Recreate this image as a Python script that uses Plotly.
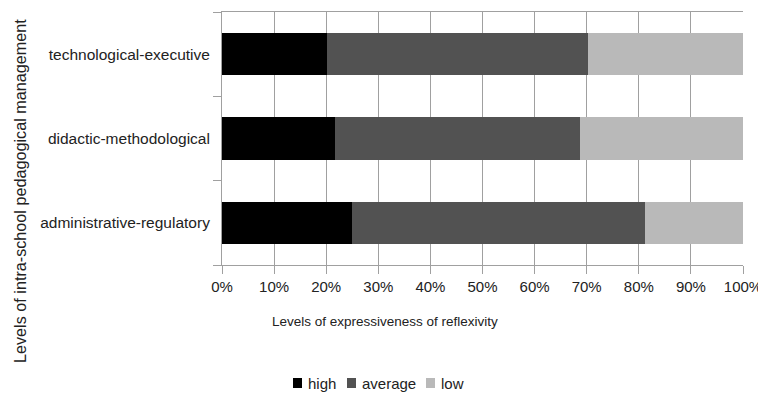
import plotly.graph_objects as go

categories = ["administrative-regulatory", "didactic-methodological", "technological-executive"]
series_names = ["high", "average", "low"]
high = [25.0, 21.6, 20.2]
average = [56.1, 47.1, 50.1]
low = [18.9, 31.3, 29.7]
x_ticks = [0, 10, 20, 30, 40, 50, 60, 70, 80, 90, 100]
x_tick_labels = [f"{v}%" for v in x_ticks]

FONT = "Liberation Sans, Arial, sans-serif"
TXT = "#222222"
COLORS = ["#000000", "#525252", "#b9b9b9"]

OFF = 8  # page body margin
W, H = 766 - OFF, 399 - OFF
# target plot area in window pixels: x 222..743, y 12..265
L, R, T, B = 222 - OFF, 766 - 743, 12 - OFF, 399 - 265
PW, PH = W - L - R, H - T - B

def px(x):
    return (x - OFF - L) / PW

def py(y):
    return (H - B - (y - OFF)) / PH

fig = go.Figure()
for name, vals, col in zip(series_names, [high, average, low], COLORS):
    fig.add_trace(go.Bar(y=categories, x=vals, name=name, orientation="h",
                         marker=dict(color=col, line=dict(width=0)), width=0.5,
                         showlegend=False))

fig.update_layout(
    barmode="stack",
    width=W, height=H,
    margin=dict(l=L, r=R, t=T, b=B, autoexpand=False),
    paper_bgcolor="white", plot_bgcolor="white",
    font=dict(family=FONT, size=15, color=TXT),
    showlegend=False,
    xaxis=dict(range=[0, 100], tickvals=x_ticks, ticktext=x_tick_labels,
               showgrid=True, gridcolor="#a0a0a0", gridwidth=1,
               showline=True, linecolor="#a0a0a0", linewidth=1, mirror=True,
               ticks="outside", ticklen=8, tickcolor="#a0a0a0",
               tickfont=dict(size=15, color=TXT), zeroline=False, fixedrange=True,
               automargin=False),
    yaxis=dict(showline=True, linecolor="#a0a0a0", linewidth=1,
               ticks="outside", ticklen=8, tickcolor="#a0a0a0", tickson="boundaries",
               tickfont=dict(size=15.5, color=TXT), showgrid=False, fixedrange=True,
               automargin=False, ticklabelstandoff=8),
)

fig.add_annotation(text="Levels of expressiveness of reflexivity", xref="paper", yref="paper",
                   x=px(385), y=py(321), xanchor="center", yanchor="middle",
                   showarrow=False, font=dict(size=13.5, color=TXT))
fig.add_annotation(text="Levels of intra-school pedagogical management", xref="paper", yref="paper",
                   x=px(9), y=py(191), xanchor="left", yanchor="middle",
                   textangle=-90, showarrow=False, font=dict(size=16.2, color=TXT))

# legend drawn from series names / colours
sq_left = [293, 347, 426]
txt_left = [306, 360, 439]
ly = 383
for name, col, sx, tx in zip(series_names, COLORS, sq_left, txt_left):
    fig.add_shape(type="rect", xref="paper", yref="paper",
                  x0=px(sx), x1=px(sx + 9), y0=py(ly + 5), y1=py(ly - 5),
                  fillcolor=col, line=dict(width=0))
    fig.add_annotation(text=name, xref="paper", yref="paper", x=px(tx), y=py(ly),
                       xanchor="left", yanchor="middle", showarrow=False,
                       font=dict(size=15, color=TXT))

fig.write_html("out.html")
